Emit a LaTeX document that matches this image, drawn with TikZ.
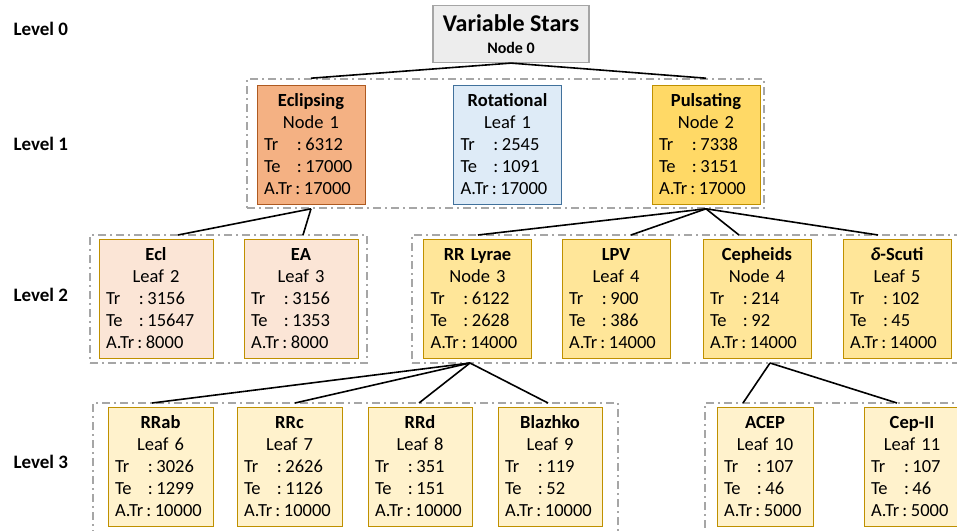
\documentclass[tikz,border=0pt]{standalone}
\usepackage{fontspec}
\setmainfont{Carlito}

\definecolor{rootfill}{HTML}{EDEDED}
\definecolor{rootline}{HTML}{A5A5A5}
\definecolor{eclfill}{HTML}{F4B183}
\definecolor{eclline}{HTML}{AE5A21}
\definecolor{rotfill}{HTML}{DEEBF7}
\definecolor{rotline}{HTML}{41719C}
\definecolor{pulfill}{HTML}{FFD966}
\definecolor{goldline}{HTML}{BF9000}
\definecolor{peach}{HTML}{FBE5D6}
\definecolor{midgold}{HTML}{FFE699}
\definecolor{lightgold}{HTML}{FFF2CC}
\definecolor{framegray}{HTML}{A6A6A6}

% title, node/leaf, train, test, augmented train
\newcommand{\starinfo}[5]{{\centering\textbf{#1}\\#2\par}%
\noindent\mbox{\makebox[33pt][l]{Tr}:\hspace{3.5pt}#3}\\
\mbox{\makebox[33pt][l]{Te}:\hspace{3.5pt}#4}\\
\mbox{A.Tr\hspace{3pt}:\hspace{3.5pt}#5}}

\begin{document}
\begin{tikzpicture}[x=1pt,y=-1pt,
	box/.style={draw=goldline,line width=1pt,inner xsep=7pt,inner ysep=0pt,
		minimum height=119pt,align=left,font=\fontsize{18.5}{22}\selectfont},
	frame/.style={draw=framegray,line width=1.6pt,inner sep=0pt,
		dash pattern=on 8pt off 4pt on 2pt off 4pt},
	link/.style={line width=1.6pt},
	level/.style={anchor=west,font=\bfseries\fontsize{19}{22}\selectfont}]
	\useasboundingbox (0,0) rectangle (957,530);

	\foreach \i/\y in {0/29,1/144,2/295,3/462}{
		\node [level] (lev\i) at (10,\y) {Level \i};
	}

	% groups
	\node [frame,minimum width=517pt,minimum height=129pt] (f1) at (505.5,143.5) {};
	\node [frame,minimum width=277pt,minimum height=128pt] (f2a) at (228.5,299) {};
	\node [frame,minimum width=553pt,minimum height=128pt] (f2b) at (688.5,299) {};
	\node [frame,minimum width=525pt,minimum height=137pt] (f3a) at (355.5,471.5) {};
	\node [frame,minimum width=260pt,minimum height=137pt] (f3b) at (835,471.5) {};

	\node [draw=rootline,fill=rootfill,line width=1.2pt,minimum width=156pt,minimum height=57pt,
		inner sep=0pt,align=center,font=\bfseries\fontsize{16}{22}\selectfont] (root) at (511,34)
		{{\fontsize{24}{26}\selectfont Variable Stars}\\Node 0};

	% level 1
	\node [box,draw=eclline,fill=eclfill,text width=94pt] (n1) at (311,144.5) {\starinfo{Eclipsing}{Node 1}{6312}{17000}{17000}};
	\node [box,draw=rotline,fill=rotfill,text width=94pt] (leaf1) at (507.5,144.5) {\starinfo{Rotational}{Leaf 1}{2545}{1091}{17000}};
	\node [box,fill=pulfill,text width=94pt] (n2) at (706,144.5) {\starinfo{Pulsating}{Node 2}{7338}{3151}{17000}};

	% level 2
	\node [box,fill=peach,text width=100pt] (ecl) at (156,298.5) {\starinfo{Ecl}{Leaf 2}{3156}{15647}{8000}};
	\node [box,fill=peach,text width=100pt] (ea) at (301,298.5) {\starinfo{EA}{Leaf 3}{3156}{1353}{8000}};
	\node [box,fill=midgold,text width=94pt] (rrlyr) at (477.5,298.5) {\starinfo{RR Lyrae}{Node 3}{6122}{2628}{14000}};
	\node [box,fill=midgold,text width=94pt] (lpv) at (616,298.5) {\starinfo{LPV}{Leaf 4}{900}{386}{14000}};
	\node [box,fill=midgold,text width=94pt] (ceph) at (757,298.5) {\starinfo{Cepheids}{Node 4}{214}{92}{14000}};
	\node [box,fill=midgold,text width=94pt] (dscuti) at (897,298.5) {\starinfo{\textit{δ}-Scuti}{Leaf 5}{102}{45}{14000}};

	% level 3
	\node [box,fill=lightgold,text width=91pt] (rrab) at (160.5,466.5) {\starinfo{RRab}{Leaf 6}{3026}{1299}{10000}};
	\node [box,fill=lightgold,text width=91pt] (rrc) at (289.5,466.5) {\starinfo{RRc}{Leaf 7}{2626}{1126}{10000}};
	\node [box,fill=lightgold,text width=90pt] (rrd) at (420,466.5) {\starinfo{RRd}{Leaf 8}{351}{151}{10000}};
	\node [box,fill=lightgold,text width=90pt] (blazhko) at (550,466.5) {\starinfo{Blazhko}{Leaf 9}{119}{52}{10000}};
	\node [box,fill=lightgold,text width=82pt] (acep) at (765,466.5) {\starinfo{ACEP}{Leaf 10}{107}{46}{5000}};
	\node [box,fill=lightgold,text width=82pt] (cepii) at (912,466.5) {\starinfo{Cep-II}{Leaf 11}{107}{46}{5000}};

	% where the links meet the groups
	\coordinate (ecl-in) at (178,235);
	\coordinate (ea-in) at (303,235);
	\coordinate (rrlyr-in) at (478,235);
	\coordinate (lpv-in) at (631,235);
	\coordinate (ceph-in) at (739,235);
	\coordinate (dscuti-in) at (878,235);
	\coordinate (rrlyr-out) at (470,363);
	\coordinate (ceph-out) at (770,363);
	\coordinate (rrab-in) at (152,403);
	\coordinate (rrc-in) at (295,403);
	\coordinate (rrd-in) at (419,403);
	\coordinate (blazhko-in) at (548,403);
	\coordinate (acep-in) at (743,403);
	\coordinate (cepii-in) at (897,403);

	\draw [link] (root.south)--(n1 |- f1.north);
	\draw [link] (root.south)--(n2 |- f1.north);
	\foreach \c in {ecl,ea}{
		\draw [link] (n1 |- f1.south)--(\c-in);
	}
	\foreach \c in {rrlyr,lpv,ceph,dscuti}{
		\draw [link] (n2 |- f1.south)--(\c-in);
	}
	\foreach \c in {rrab,rrc,rrd,blazhko}{
		\draw [link] (rrlyr-out)--(\c-in);
	}
	\foreach \c in {acep,cepii}{
		\draw [link] (ceph-out)--(\c-in);
	}
\end{tikzpicture}
\end{document}
